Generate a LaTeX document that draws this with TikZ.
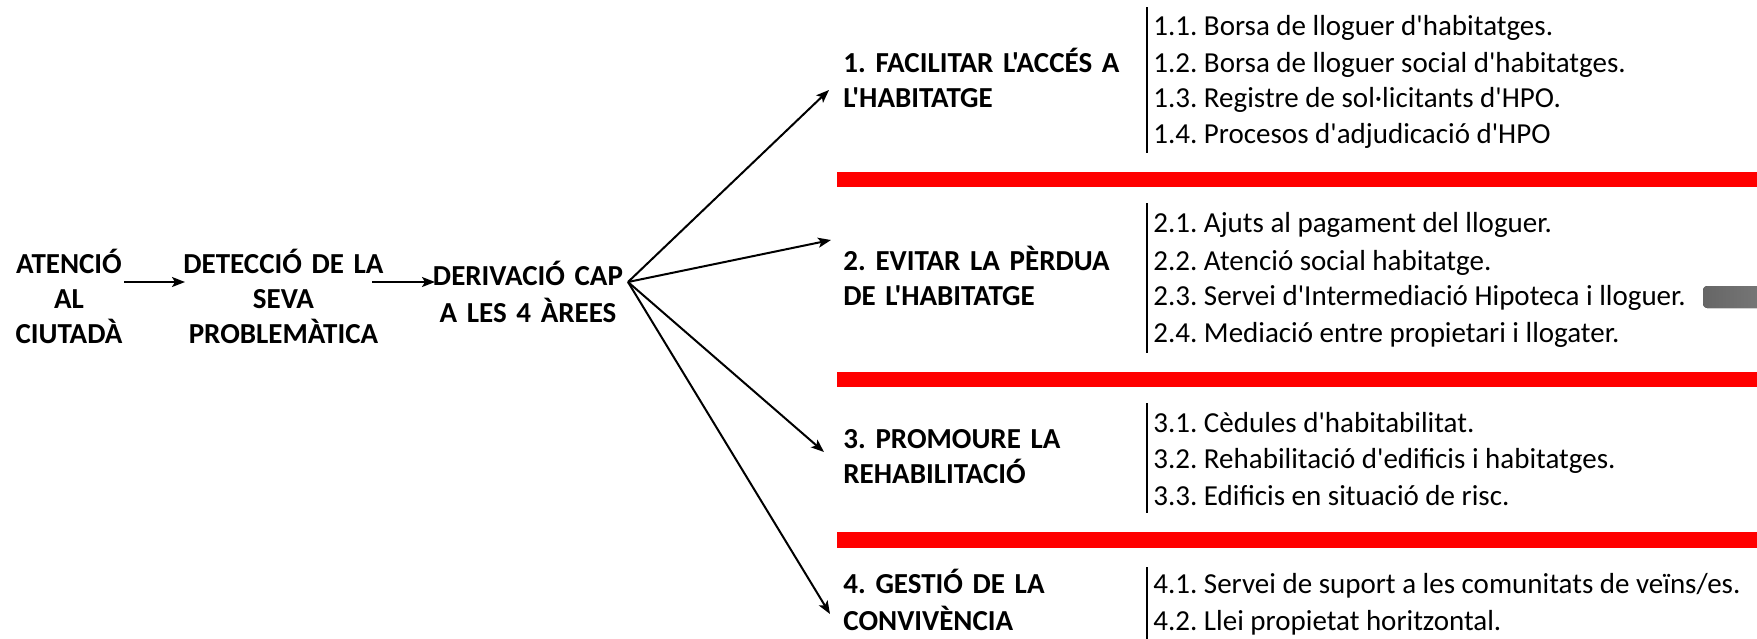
\documentclass[tikz,border=0pt]{standalone}
\usepackage{fontspec}
\setmainfont{Carlito}[Ligatures=TeXOff]
\usetikzlibrary{arrows.meta}
\frenchspacing
\begin{document}
\begin{tikzpicture}[x=0.5pt,y=-0.5pt,
  txt/.style={inner sep=0pt, font=\fontsize{14.5}{17.5}\selectfont},
  hd/.style={txt, font=\fontsize{14.5}{17.5}\selectfont\bfseries, align=left, anchor=base west, text width=160pt},
  blk/.style={txt, font=\fontsize{14.5}{17.5}\selectfont\bfseries, align=center, anchor=base, text width=120pt},
  itm/.style={txt, anchor=base west},
  arr/.style={line width=1pt, -{Stealth[length=6.5pt,width=5pt,inset=1.5pt]}},
  bar/.style={fill=red, draw=none},
  vl/.style={line width=1pt}]
\fill[white] (0,0) rectangle (1757,638);
\useasboundingbox (0,0) rectangle (1757,638);

% left chain
\node[blk] (atn) at (69,273) {ATENCIÓ\\AL\\CIUTADÀ};
\node[blk] (det) at (283.5,273) {DETECCIÓ DE LA\\SEVA\\PROBLEMÀTICA};
\node[blk, font=\fontsize{14.5}{18.5}\selectfont\bfseries] (der) at (528,285) {DERIVACIÓ CAP\\A LES 4 ÀREES};

\draw[arr] ([shift={(55,9)}]atn.base) -- ([shift={(-98.5,9)}]det.base);
\draw[arr] ([shift={(88.5,9)}]det.base) -- ([shift={(-93,-3)}]der.base);
\coordinate (fan) at ([shift={(100,-3)}]der.base);

% headings
\node[hd] (h1) at (843,72) {1. FACILITAR L'ACCÉS A\\L'HABITATGE};
\node[hd] (h2) at (843,270) {2. EVITAR LA PÈRDUA\\DE L'HABITATGE};
\node[hd] (h3) at (843,448) {3. PROMOURE LA\\REHABILITACIÓ};
\node[hd, font=\fontsize{14.5}{18.5}\selectfont\bfseries] (h4) at (843,593) {4. GESTIÓ DE LA\\CONVIVÈNCIA};

\draw[arr] (fan) -- ([shift={(-14,18)}]h1.base west);
\draw[arr] (fan) -- ([shift={(-12,-30)}]h2.base west);
\draw[arr] (fan) -- ([shift={(-19,4)}]h3.base west);
\draw[arr] (fan) -- ([shift={(-13,21)}]h4.base west);

% items
\node[itm] (i11) at (1153,35) {1.1. Borsa de lloguer d'habitatges.};
\node[itm] (i12) at (1153,72) {1.2. Borsa de lloguer social d'habitatges.};
\node[itm] (i13) at (1153,107) {1.3. Registre de sol·licitants d'HPO.};
\node[itm] (i14) at (1153,143) {1.4. Procesos d'adjudicació d'HPO};

\node[itm] (i21) at (1153,232) {2.1. Ajuts al pagament del lloguer.};
\node[itm] (i22) at (1153,270) {2.2. Atenció social habitatge.};
\node[itm] (i23) at (1153,305) {2.3. Servei d'Intermediació Hipoteca i lloguer.};
\node[itm] (i24) at (1153,342) {2.4. Mediació entre propietari i llogater.};

\node[itm] (i31) at (1153,432) {3.1. Cèdules d'habitabilitat.};
\node[itm] (i32) at (1153,468) {3.2. Rehabilitació d'edificis i habitatges.};
\node[itm] (i33) at (1153,505) {3.3. Edificis en situació de risc.};

\node[itm] (i41) at (1153,593) {4.1. Servei de suport a les comunitats de veïns/es.};
\node[itm] (i42) at (1153,630) {4.2. Llei propietat horitzontal.};

% vertical separators
\draw[vl] ([shift={(-6,-28)}]i11.base west) -- ([shift={(-6,10)}]i14.base west);
\draw[vl] ([shift={(-6,-29)}]i21.base west) -- ([shift={(-6,11)}]i24.base west);
\draw[vl] ([shift={(-6,-29)}]i31.base west) -- ([shift={(-6,8)}]i33.base west);
\draw[vl] ([shift={(-6,-26)}]i41.base west) -- ([shift={(-6,10)}]i42.base west);

% red bars
\fill[bar] (837,172) rectangle (1757,187);
\fill[bar] (837,372) rectangle (1757,387);
\fill[bar] (837,532) rectangle (1757,548);

% grey tab
\fill[rounded corners=2pt, left color=black!60, right color=black!52] (1703,286) rectangle (1775,308);
\end{tikzpicture}
\end{document}
